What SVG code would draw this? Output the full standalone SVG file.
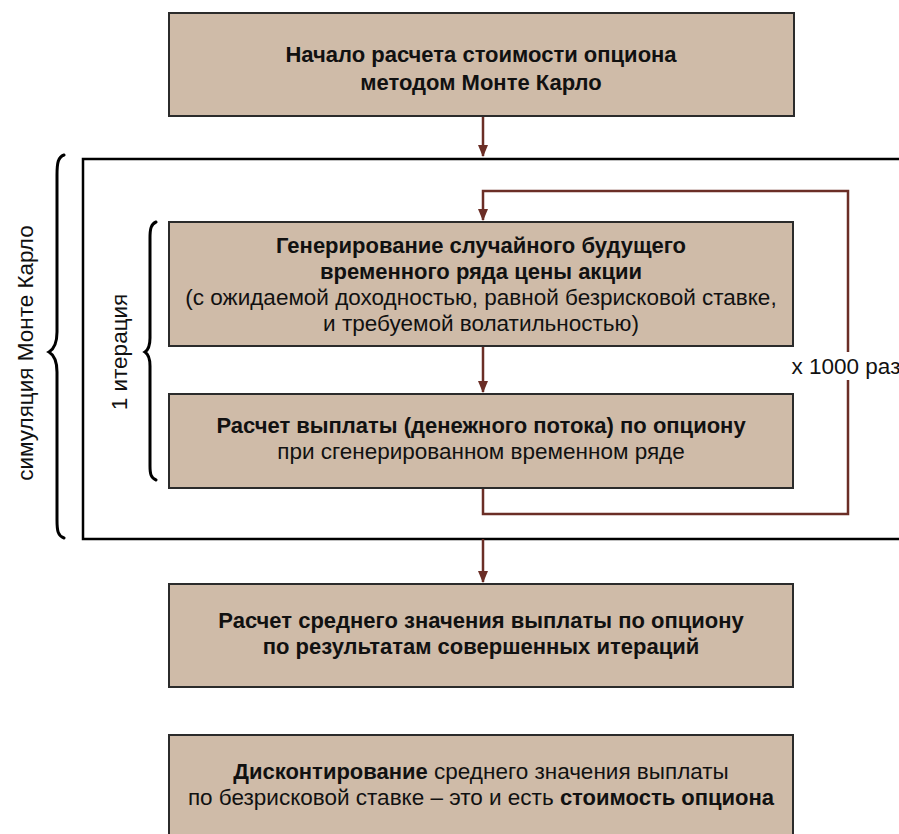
<svg xmlns="http://www.w3.org/2000/svg" width="899" height="834" viewBox="0 0 899 834">
<style>
.box{fill:#cfbba8;stroke:#2b2b2b;stroke-width:2}
.t{font-family:"Liberation Sans",Arial,sans-serif;font-size:22.5px;fill:#111;text-anchor:middle}
.b{font-weight:bold;font-size:22px}
.con{fill:none;stroke:#6b2e26;stroke-width:2.5}
.brace{fill:none;stroke:#000;stroke-width:3;stroke-linecap:round}
</style>
<defs>
<marker id="ah" markerWidth="12" markerHeight="10" refX="11" refY="5" orient="auto" markerUnits="userSpaceOnUse">
<path d="M0,0 L12,5 L0,10 z" fill="#6b2e26"/>
</marker>
</defs>
<rect width="899" height="834" fill="#fff"/>
<g id="frame">
<path d="M900,159 L83,159 L83,539 L900,539" fill="none" stroke="#000" stroke-width="2.5"/>
</g>
<g id="connectors">
<path class="con" d="M483,116 L483,156" marker-end="url(#ah)"/>
<path class="con" d="M483,346 L483,392" marker-end="url(#ah)"/>
<path class="con" d="M483,488 L483,514 L848,514 L848,191 L483,191 L483,220" marker-end="url(#ah)"/>
<path class="con" d="M483,539 L483,582" marker-end="url(#ah)"/>
</g>
<g id="start">
<rect class="box" x="169" y="13" width="625" height="103"/>
<text class="t b" x="481" y="62">Начало расчета стоимости опциона</text>
<text class="t b" x="481" y="90">методом Монте Карло</text>
</g>
<g id="generate">
<rect class="box" x="169" y="222" width="624" height="124"/>
<text class="t b" x="481" y="253">Генерирование случайного будущего</text>
<text class="t b" x="481" y="279">временного ряда цены акции</text>
<text class="t" x="481" y="305">(с ожидаемой доходностью, равной безрисковой ставке,</text>
<text class="t" x="481" y="331">и требуемой волатильностью)</text>
</g>
<g id="payoff">
<rect class="box" x="169" y="394" width="624" height="94"/>
<text class="t b" x="481" y="433">Расчет выплаты (денежного потока) по опциону</text>
<text class="t" x="481" y="459">при сгенерированном временном ряде</text>
</g>
<g id="loop-label">
<rect x="793" y="352" width="106" height="28" fill="#fff"/>
<text class="t" x="846" y="374">x 1000 раз</text>
</g>
<g id="mean">
<rect class="box" x="169" y="584" width="624" height="103"/>
<text class="t b" x="481" y="628">Расчет среднего значения выплаты по опциону</text>
<text class="t b" x="481" y="654">по результатам совершенных итераций</text>
</g>
<g id="discount">
<rect class="box" x="169" y="735" width="624" height="110"/>
<text class="t" x="481" y="779"><tspan class="b">Дисконтирование</tspan> среднего значения выплаты</text>
<text class="t" x="481" y="805">по безрисковой ставке – это и есть <tspan class="b">стоимость опциона</tspan></text>
</g>
<g id="mc-brace">
<path class="brace" d="M64,155 C58,157 57,163 57,175 L57,332 C57,343 54,349 49,352 C54,355 57,361 57,372 L57,520 C57,531 58,536 64,538"/>
<text class="t" transform="translate(33,353) rotate(-90)">симуляция Монте Карло</text>
</g>
<g id="iter-brace">
<path class="brace" d="M156,222 C151,224 150,229 150,238 L150,338 C150,346 148,350 145,352 C148,354 150,358 150,366 L150,466 C150,474 151,478 156,480"/>
<text class="t" transform="translate(127,352) rotate(-90)">1 итерация</text>
</g>
</svg>
